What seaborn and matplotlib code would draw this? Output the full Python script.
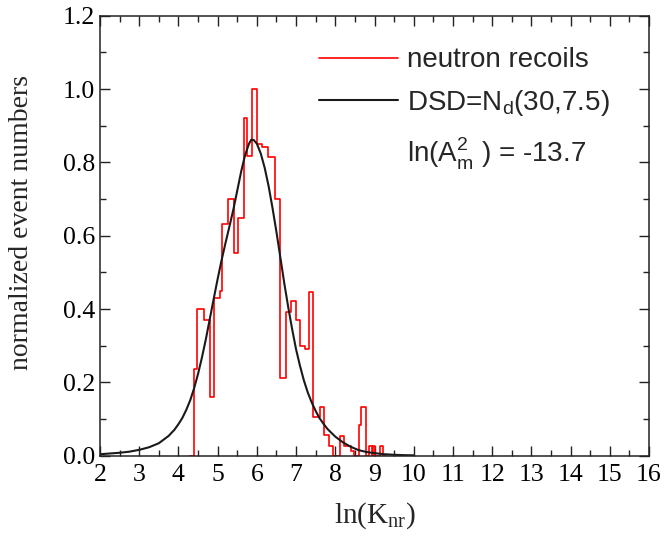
import numpy as np
import pandas as pd
import matplotlib
matplotlib.use("Agg")
import matplotlib.pyplot as plt
import seaborn as sns
from matplotlib.ticker import MultipleLocator, FormatStrFormatter
from matplotlib.lines import Line2D

# ---- histogram data (bin edges in ln(K_nr), normalized heights) ----
bin_edges = [4.30, 4.394, 4.479, 4.640, 4.793, 4.912, 5.048, 5.117, 5.261, 5.414,
             5.508, 5.661, 5.754, 5.882, 6.001, 6.137, 6.273, 6.452, 6.596, 6.749,
             6.860, 7.004, 7.106, 7.217, 7.319, 7.429, 7.617, 7.715, 7.840, 7.950,
             8.120, 8.230, 8.400, 8.470, 8.610, 8.660, 8.775, 8.860, 8.930, 8.970,
             9.010, 9.140, 9.220, 9.300]
bin_heights = [0.0, 0.236, 0.399, 0.370, 0.159, 0.429, 0.450, 0.632, 0.700, 0.552,
               0.649, 0.920, 0.817, 1.000, 0.850, 0.841, 0.814, 0.700, 0.211, 0.393,
               0.422, 0.370, 0.300, 0.290, 0.447, 0.106, 0.132, 0.056, 0.027, 0.0,
               0.055, 0.027, 0.014, 0.0, 0.085, 0.132, 0.0, 0.027, 0.0, 0.027,
               0.0, 0.027, 0.0]

# ---- DSD curve ----
curve_x = [2.0, 2.25, 2.5, 2.75, 3.0, 3.25, 3.5, 3.75, 3.9, 4.0, 4.1, 4.2, 4.3,
           4.4, 4.5, 4.6, 4.7, 4.8, 4.9, 5.0, 5.1, 5.2, 5.3, 5.4, 5.5, 5.6, 5.7,
           5.8, 5.86, 5.92, 6.0, 6.1, 6.2, 6.3, 6.4, 6.5, 6.6, 6.7, 6.8, 6.9,
           7.0, 7.1, 7.2, 7.3, 7.4, 7.5, 7.6, 7.7, 7.8, 8.0, 8.2, 8.4, 8.6, 8.8,
           9.0, 9.25, 9.5, 9.75, 10.0]
curve_y = [0.004, 0.006, 0.008, 0.011, 0.016, 0.023, 0.034, 0.054, 0.071, 0.086,
           0.103, 0.125, 0.151, 0.184, 0.223, 0.268, 0.318, 0.373, 0.428, 0.482,
           0.533, 0.580, 0.625, 0.671, 0.723, 0.775, 0.820, 0.851, 0.862, 0.861,
           0.851, 0.824, 0.785, 0.735, 0.675, 0.610, 0.540, 0.470, 0.405, 0.345,
           0.290, 0.245, 0.205, 0.172, 0.145, 0.122, 0.102, 0.087, 0.073, 0.052,
           0.036, 0.024, 0.015, 0.010, 0.007, 0.004, 0.0025, 0.0015, 0.001]

x_ticks = list(range(2, 17))
y_ticks = [0.0, 0.2, 0.4, 0.6, 0.8, 1.0, 1.2]

sns.set_style("ticks")
plt.rcParams["font.family"] = ["Liberation Serif", "DejaVu Serif"]
plt.rcParams["mathtext.fontset"] = "custom"
plt.rcParams["mathtext.rm"] = "Liberation Serif"
plt.rcParams["mathtext.sf"] = "Liberation Sans"

fig = plt.figure(figsize=(6.64, 5.45), dpi=100)
ax = fig.add_axes([100 / 664, 1 - 455.7 / 545, 549 / 664, 440 / 545])

centers = [(a + b) / 2 for a, b in zip(bin_edges[:-1], bin_edges[1:])]
hist_df = pd.DataFrame({"x": centers, "w": bin_heights})
sns.histplot(data=hist_df, x="x", weights="w", bins=bin_edges, element="step",
             fill=False, color="#ff0000", linewidth=1.2, ax=ax)

curve_df = pd.DataFrame({"x": curve_x, "y": curve_y})
sns.lineplot(data=curve_df, x="x", y="y", color="#1a1a1a", linewidth=1.5, ax=ax)

ax.set_xlim(2, 16)
ax.set_ylim(0, 1.2)
ax.set_xticks(x_ticks)
ax.set_yticks(y_ticks)
ax.xaxis.set_minor_locator(MultipleLocator(0.5))
ax.yaxis.set_minor_locator(MultipleLocator(0.1))
ax.yaxis.set_major_formatter(FormatStrFormatter("%.1f"))
ax.tick_params(which="both", direction="in", top=True, right=True,
               colors="#222222", labelcolor="black", labelsize=18.5)
ax.tick_params(which="major", length=7, width=1.0)
ax.tick_params(which="minor", length=4, width=1.0)
ax.tick_params(axis="x", pad=6)
for s in ax.spines.values():
    s.set_color("#222222")
    s.set_linewidth(1.1)

ax.set_xlabel("ln(K$_\\mathrm{nr}$)", fontsize=21, labelpad=10)
ax.set_ylabel("normalized event numbers", fontsize=20)
ax.yaxis.set_label_coords(-0.12, 0.53)

handles = [Line2D([], [], color="#ff0000", linewidth=1.2),
           Line2D([], [], color="#1a1a1a", linewidth=1.5)]
labels = ["neutron recoils", "DSD=N$_\\mathsf{d}$(30,7.5)"]
leg = ax.legend(handles, labels, loc="upper left", bbox_to_anchor=(0.399, 0.928),
                frameon=False, borderpad=0, borderaxespad=0,
                handlelength=2.85, handletextpad=0.32, labelspacing=0.52,
                prop={"family": "Liberation Sans", "size": 20})

ax.text(0.559, 0.668, "ln(A$_\\mathsf{m}^\\mathsf{2}$ ) = -13.7", transform=ax.transAxes,
        family="Liberation Sans", fontsize=20, va="baseline", ha="left")

fig.savefig("out.png", dpi=100)
